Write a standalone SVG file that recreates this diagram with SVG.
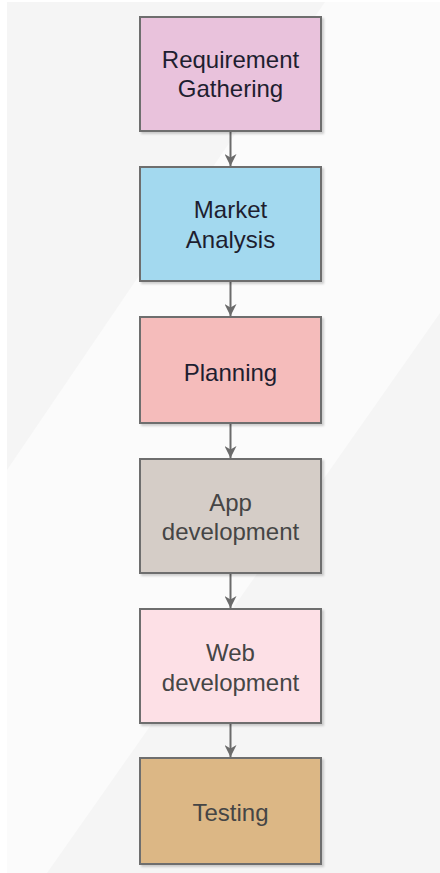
<svg xmlns="http://www.w3.org/2000/svg" width="440" height="873" viewBox="0 0 440 873">
  <style>
    .box { stroke: #6e6e6e; stroke-width: 2; filter: url(#shadow); }
    .label { font-family: "Liberation Sans", Arial, sans-serif; font-size: 24px; text-anchor: middle; }
    .dark { fill: #1e1e30; }
    .soft { fill: #454545; }
    .link { stroke: #6b6b6b; stroke-width: 2; fill: none; marker-end: url(#arrow); }
  </style>
  <defs>
    <filter id="shadow" x="-10%" y="-10%" width="125%" height="125%">
      <feDropShadow dx="2" dy="2" stdDeviation="1.2" flood-color="#000" flood-opacity="0.18"/>
    </filter>
    <marker id="arrow" markerUnits="userSpaceOnUse" markerWidth="12" markerHeight="12" viewBox="0 0 10 10" refX="10" refY="5" orient="auto">
      <path d="M0,0 L10,5 L0,10 L3,5 Z" fill="#6b6b6b"/>
    </marker>
  </defs>

  <!-- page background with diagonal bands -->
  <rect x="0" y="0" width="440" height="873" fill="#ffffff"/>
  <rect x="7" y="2" width="433" height="871" fill="#f5f5f5"/>
  <polygon points="325,2 440,2 440,313 47,873 7,873 7,470" fill="#fbfbfb"/>

  <!-- connectors -->
  <g id="connectors">
    <line class="link" x1="230.5" y1="132" x2="230.5" y2="166"/>
    <line class="link" x1="230.5" y1="282" x2="230.5" y2="316"/>
    <line class="link" x1="230.5" y1="424" x2="230.5" y2="458"/>
    <line class="link" x1="230.5" y1="574" x2="230.5" y2="608"/>
    <line class="link" x1="230.5" y1="724" x2="230.5" y2="757"/>
  </g>

  <g id="requirement-gathering">
    <rect class="box" x="140" y="17" width="181" height="114" fill="#e9c2dc"/>
    <text class="label dark" x="230.5" y="68">Requirement</text>
    <text class="label dark" x="230.5" y="97">Gathering</text>
  </g>

  <g id="market-analysis">
    <rect class="box" x="140" y="167" width="181" height="114" fill="#a3d9ef"/>
    <text class="label dark" x="230.5" y="218">Market</text>
    <text class="label dark" x="230.5" y="248">Analysis</text>
  </g>

  <g id="planning">
    <rect class="box" x="140" y="317" width="181" height="106" fill="#f5bcbb"/>
    <text class="label dark" x="230.5" y="381">Planning</text>
  </g>

  <g id="app-development">
    <rect class="box" x="140" y="459" width="181" height="114" fill="#d5cdc7"/>
    <text class="label soft" x="230.5" y="511">App</text>
    <text class="label soft" x="230.5" y="540">development</text>
  </g>

  <g id="web-development">
    <rect class="box" x="140" y="609" width="181" height="114" fill="#fde0e6"/>
    <text class="label soft" x="230.5" y="661">Web</text>
    <text class="label soft" x="230.5" y="691">development</text>
  </g>

  <g id="testing">
    <rect class="box" x="140" y="758" width="181" height="106" fill="#dcb785"/>
    <text class="label soft" x="230.5" y="821">Testing</text>
  </g>
</svg>
